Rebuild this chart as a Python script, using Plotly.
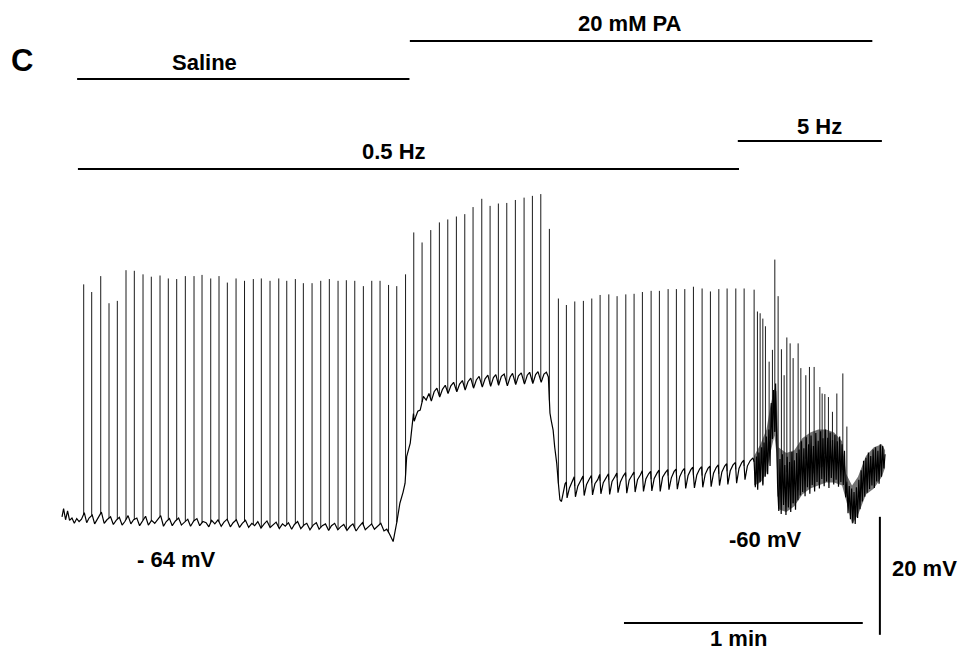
import numpy as np
import plotly.graph_objects as go

# ---------------- data (time in s, membrane potential in mV) ----------------
# spike times and peak potentials
saline_spike_t = [5.45, 7.46, 9.73, 11.81, 13.90, 16.08, 18.17, 20.36, 22.44, 24.63,
                  26.71, 28.82, 30.99, 33.17, 35.18, 37.37, 39.45, 41.54, 43.73, 45.86,
                  48.07, 50.08, 52.27, 54.46, 56.47, 58.63, 60.64, 62.83, 65.01, 67.17,
                  69.36, 71.44, 73.56, 75.72, 77.83, 79.91, 82.05, 84.11, 86.32]
saline_spike_v = [-24.4, -25.7, -23.0, -27.6, -27.2, -22.0, -22.1, -22.7, -23.1, -22.9,
                  -23.4, -23.5, -23.0, -23.0, -22.8, -23.4, -23.0, -24.1, -23.4, -23.8,
                  -23.5, -23.4, -23.8, -23.4, -23.8, -23.5, -24.2, -24.2, -23.8, -23.5,
                  -23.8, -23.7, -23.8, -24.7, -23.8, -23.8, -24.5, -24.7, -22.7]

pa_spike_t = [88.38, 90.47, 92.65, 94.82, 96.93, 99.09, 101.20, 103.28, 105.47, 107.56,
              109.64, 111.75, 113.91, 116.10, 118.19, 120.30, 122.46]
pa_spike_v = [-15.6, -17.3, -15.2, -13.9, -13.4, -12.9, -12.5, -11.3, -9.9, -11.1,
              -10.7, -10.6, -10.1, -9.7, -9.4, -9.1, -15.0]

late_spike_t = [124.72, 126.73, 128.84, 131.00, 133.11, 135.20, 137.39, 139.47, 141.66,
                143.74, 145.83, 148.02, 150.10, 152.29, 154.37, 156.48, 158.65, 160.83,
                162.92, 165.03, 167.11, 169.30, 171.39]
late_spike_v = [-26.8, -27.9, -27.3, -27.2, -26.8, -26.2, -26.1, -26.4, -26.1,
                -26.0, -25.7, -25.5, -25.5, -25.2, -25.2, -25.2, -24.8, -25.1,
                -25.6, -25.2, -25.1, -25.1, -25.1]

hz5_spike_t = [173.90, 174.73, 175.41, 176.09, 176.74, 177.67, 178.50, 179.10, 179.93,
               180.76, 181.44, 182.12, 182.95, 183.70, 184.96, 185.64, 186.89, 187.80,
               188.98, 190.41, 190.99, 191.67, 192.57, 193.58, 194.68, 196.19, 197.20]
hz5_spike_v = [-25.3, -29.0, -29.3, -30.2, -31.5, -37.5, -35.5, -20.2, -26.4,
               -35.4, -39.8, -33.4, -34.4, -36.9, -34.4, -38.6, -39.8, -38.4,
               -38.4, -41.8, -42.9, -43.0, -43.5, -46.0, -42.9, -39.5, -48.5]

# baseline (sub-threshold) potential, read point by point
base_saline = [
    (0.0, -63.8), (0.4, -62.4), (0.9, -64.3), (1.4, -62.8), (1.9, -64.4), (2.5, -64.0),
    (3.1, -64.9), (3.7, -64.1), (4.3, -64.6), (4.9, -64.2), (5.6, -63.1), (6.2, -64.8),
    (6.8, -64.0), (7.6, -63.5), (8.2, -65.0), (8.9, -64.2), (9.9, -63.0), (10.6, -64.9),
    (11.3, -64.3), (12.2, -63.8), (12.9, -65.1), (13.6, -64.4), (14.4, -63.9), (15.1, -65.2),
    (15.8, -64.6), (16.6, -63.6), (17.3, -65.0), (18.0, -64.3), (18.8, -64.0), (19.5, -65.3),
    (20.2, -64.5), (21.0, -63.7), (21.7, -65.2), (22.5, -64.4), (23.3, -64.9), (24.0, -64.2),
    (24.8, -63.6), (25.5, -65.4), (26.2, -64.6), (27.0, -64.1), (27.7, -65.3), (28.5, -64.5),
    (29.3, -64.0), (30.0, -65.2), (30.8, -64.7), (31.6, -64.2), (32.3, -65.4), (33.1, -64.5),
    (33.9, -64.1), (34.6, -65.3), (35.4, -64.6), (36.2, -64.8), (36.9, -65.5), (37.6, -64.4),
    (38.4, -65.0), (39.2, -64.3), (40.0, -65.4), (40.7, -64.7), (41.5, -64.2), (42.3, -65.5),
    (43.0, -64.8), (43.8, -64.3), (44.6, -65.6), (45.3, -64.9), (46.1, -64.4), (46.9, -65.6),
    (47.7, -64.9), (48.4, -65.3), (49.2, -64.6), (50.0, -65.7), (50.8, -65.0), (51.5, -64.5),
    (52.3, -65.6), (53.0, -65.1), (53.8, -64.7), (54.6, -65.8), (55.4, -65.0), (56.1, -65.4),
    (56.9, -64.8), (57.7, -65.9), (58.4, -65.1), (59.2, -64.6), (60.0, -65.8), (60.8, -65.2),
    (61.5, -64.9), (62.3, -66.0), (63.1, -65.2), (63.9, -64.8), (64.6, -65.9), (65.4, -65.3),
    (66.2, -65.0), (67.0, -66.1), (67.7, -65.3), (68.5, -64.9), (69.3, -66.0), (70.0, -65.5),
    (70.8, -65.1), (71.6, -66.1), (72.4, -65.4), (73.1, -65.0), (73.9, -66.2), (74.7, -65.4),
    (75.5, -64.8), (76.2, -66.0), (77.0, -65.5), (77.8, -65.0), (78.5, -65.9), (79.3, -65.4),
    (80.1, -64.9), (80.9, -66.2), (81.6, -65.9), (82.2, -66.6), (82.8, -67.5), (83.2, -68.0),
]
base_pa = [
    (84.1, -64.8), (84.9, -61.5), (85.7, -59.6), (86.2, -58.1), (86.6, -53.6), (87.5, -51.3),
    (88.3, -46.3), (88.5, -47.6), (88.9, -46.8), (89.4, -45.9), (90.0, -45.7), (90.8, -43.4),
    (91.5, -44.0), (92.2, -42.9), (92.8, -44.2), (93.5, -42.6), (94.2, -42.0), (94.9, -43.5),
    (95.6, -42.2), (96.3, -41.5), (97.0, -42.9), (97.7, -41.6), (98.4, -41.0), (99.2, -42.6),
    (99.9, -41.3), (100.6, -40.7), (101.3, -42.3), (102.0, -40.9), (102.7, -40.3), (103.4, -42.0),
    (104.1, -40.6), (104.8, -40.0), (105.6, -41.8), (106.3, -40.4), (107.0, -39.8), (107.7, -41.7),
    (108.4, -40.2), (109.0, -39.7), (109.7, -41.5), (110.4, -40.0), (111.1, -39.6), (111.9, -41.6),
    (112.6, -40.1), (113.2, -39.5), (114.0, -41.4), (114.7, -39.9), (115.4, -39.4), (116.2, -41.3),
    (116.9, -39.8), (117.5, -39.3), (118.3, -41.2), (119.0, -39.7), (119.6, -39.2), (120.4, -41.0),
    (121.1, -39.6), (121.7, -39.3), (122.2, -40.1), (122.6, -46.2), (122.9, -47.4), (123.4, -49.1),
    (123.8, -52.0), (124.3, -54.7), (124.7, -58.0), (125.1, -60.9), (125.5, -61.2),
]
base_late = [
    (125.9, -59.6), (126.4, -58.2), (126.7, -57.9), (126.9, -60.6), (127.5, -58.9), (128.2, -57.6),
    (128.7, -57.0), (129.0, -60.4), (129.6, -58.6), (130.3, -57.7), (130.9, -56.9), (131.2, -60.2),
    (131.8, -58.3), (132.5, -57.4), (133.0, -56.8), (133.3, -60.1), (133.9, -58.2), (134.6, -57.5),
    (135.1, -56.6), (135.4, -59.9), (136.0, -58.0), (136.7, -57.2), (137.3, -56.5), (137.6, -60.0),
    (138.2, -57.8), (138.9, -57.0), (139.4, -56.4), (139.7, -59.7), (140.3, -57.9), (141.0, -56.9),
    (141.6, -56.3), (141.9, -59.8), (142.5, -57.6), (143.2, -56.8), (143.7, -56.2), (144.0, -59.6),
    (144.6, -57.5), (145.3, -56.7), (145.8, -56.0), (146.1, -59.5), (146.7, -57.4), (147.4, -56.5),
    (147.9, -56.1), (148.2, -59.4), (148.8, -57.3), (149.5, -56.4), (150.0, -55.9), (150.3, -59.5),
    (150.9, -57.1), (151.6, -56.3), (152.2, -55.8), (152.5, -59.2), (153.1, -57.2), (153.8, -56.1),
    (154.3, -55.7), (154.6, -59.1), (155.2, -57.0), (155.9, -56.0), (156.4, -55.6), (156.7, -59.0),
    (157.3, -56.8), (158.0, -55.8), (158.5, -55.4), (158.9, -58.9), (159.5, -56.7), (160.2, -55.7),
    (160.7, -55.3), (161.0, -58.8), (161.6, -56.6), (162.3, -55.6), (162.8, -55.2), (163.1, -58.7),
    (163.7, -56.4), (164.4, -55.4), (164.9, -55.0), (165.2, -58.5), (165.8, -56.2), (166.5, -55.2),
    (167.0, -54.8), (167.3, -58.3), (167.9, -56.0), (168.6, -55.0), (169.2, -54.6), (169.5, -58.1),
    (170.1, -55.6), (170.8, -54.6), (171.3, -54.2), (171.6, -57.5), (172.2, -55.2), (172.9, -54.3),
    (173.6, -53.8),
]
base_5hz = [
    (173.9, -54.5), (174.2, -58.8), (174.5, -53.6), (174.8, -59.2), (175.1, -52.9), (175.4, -57.9),
    (175.8, -52.0), (176.1, -58.5), (176.4, -51.2), (176.7, -57.0), (177.0, -50.2), (177.3, -56.6),
    (177.6, -49.0), (177.9, -55.2), (178.2, -44.5), (178.5, -50.6), (178.8, -42.3), (179.1, -49.4),
    (179.3, -41.2), (179.6, -52.0), (179.8, -58.5), (180.1, -62.8), (180.4, -54.0), (180.7, -63.3),
    (181.0, -53.2), (181.3, -61.8), (181.6, -55.0), (181.9, -63.5), (182.2, -53.6), (182.5, -62.2),
    (182.8, -54.5), (183.1, -63.0), (183.4, -52.8), (183.7, -61.5), (184.0, -54.2), (184.3, -62.6),
    (184.6, -53.0), (184.9, -61.0), (185.2, -52.4), (185.5, -60.2), (185.8, -51.0), (186.1, -59.6),
    (186.4, -52.2), (186.7, -60.3), (187.0, -50.3), (187.3, -58.8), (187.6, -51.5), (187.9, -59.9),
    (188.2, -50.0), (188.5, -58.4), (188.8, -51.8), (189.1, -59.5), (189.4, -49.6), (189.7, -57.9),
    (190.0, -50.9), (190.3, -59.0), (190.6, -49.3), (190.9, -57.4), (191.2, -50.5), (191.5, -58.6),
    (191.8, -49.0), (192.1, -57.8), (192.4, -50.4), (192.7, -58.9), (193.0, -49.5), (193.3, -57.2),
    (193.6, -50.8), (193.9, -58.3), (194.2, -49.9), (194.5, -57.5), (194.8, -51.0), (195.1, -58.7),
    (195.4, -50.2), (195.7, -57.9), (196.0, -51.5), (196.3, -58.4), (196.6, -52.6), (196.9, -60.5),
    (197.2, -57.8), (197.5, -63.2), (197.8, -58.6), (198.1, -64.2), (198.4, -59.0), (198.7, -64.9),
    (199.0, -59.6), (199.3, -65.0), (199.6, -58.8), (199.9, -64.0), (200.2, -57.5), (200.5, -62.5),
    (200.8, -55.9), (201.1, -61.2), (201.4, -54.3), (201.7, -60.4), (202.0, -53.8), (202.3, -59.7),
    (202.6, -52.9), (202.9, -59.1), (203.2, -53.5), (203.5, -58.5), (203.8, -52.4), (204.1, -58.9),
    (204.4, -52.0), (204.7, -57.8), (205.0, -52.6), (205.3, -58.2), (205.6, -51.5), (205.9, -57.0),
    (206.2, -51.8), (206.5, -55.6), (206.8, -53.2),
]

# envelope of the dense noise band during 5 Hz stimulation
burst_env_t = [173.9, 175.5, 177.0, 178.0, 179.0, 179.5, 180.0, 182.0, 184.0, 186.0, 188.0,
               190.0, 192.0, 194.0, 196.0, 197.0, 198.5, 200.0, 202.0, 204.0, 206.0, 206.8]
burst_env_hi = [-53.5, -51.5, -49.0, -45.0, -42.0, -42.5, -52.0, -53.0, -52.5, -50.5, -49.5,
                -49.0, -49.0, -49.5, -51.0, -56.5, -58.5, -57.0, -53.5, -52.0, -51.5, -52.5]
burst_env_lo = [-58.5, -58.0, -56.5, -53.0, -50.0, -53.0, -62.5, -63.0, -62.0, -60.0, -59.0,
                -58.5, -58.0, -58.0, -58.5, -61.0, -65.0, -63.5, -60.0, -59.0, -57.0, -55.5]

# condition / stimulation periods (s)
drug_labels = ["Saline", "20 mM PA"]
drug_start = [3.8, 87.4]
drug_end = [87.3, 203.6]
stim_labels = ["0.5 Hz", "5 Hz"]
stim_start = [4.0, 169.8]
stim_end = [170.1, 206.0]

# scale bars and level labels
scale_time_s = 60
scale_mv = 20
level_labels = ["- 64 mV", "-60 mV"]

# ---------------- build figure ----------------
base = base_saline + base_pa + base_late + base_5hz
bt = np.array([p[0] for p in base])
bv = np.array([p[1] for p in base])

spike_t = saline_spike_t + pa_spike_t + late_spike_t + hz5_spike_t
spike_v = saline_spike_v + pa_spike_v + late_spike_v + hz5_spike_v
sx, sy = [], []
for t, v in zip(spike_t, spike_v):
    foot = float(np.interp(t, bt, bv))
    sx += [t, t, None]
    sy += [foot, v, None]

fig = go.Figure()
fig.add_trace(go.Scatter(x=burst_env_t + burst_env_t[::-1],
                         y=burst_env_hi + burst_env_lo[::-1],
                         mode="lines", fill="toself", fillcolor="rgba(0,0,0,0.55)",
                         line=dict(width=0), hoverinfo="skip"))
fig.add_trace(go.Scatter(x=sx, y=sy, mode="lines",
                         line=dict(color="#1a1a1a", width=1), hoverinfo="skip"))
fig.add_trace(go.Scatter(x=bt, y=bv, mode="lines",
                         line=dict(color="#000000", width=1.2), hoverinfo="skip"))

W, H = 963, 651
FONT = "Liberation Sans, Arial, sans-serif"
FS = 22


def py(px):  # pixel row -> paper y
    return 1 - px / H


def px_x(px):
    return px / W


shapes = []
annotations = []
bar_line = dict(color="black", width=2)


def label(text, tx, ty, size=FS):
    annotations.append(dict(text="<b>%s</b>" % text, xref="paper", yref="paper",
                            x=px_x(tx), y=py(ty), showarrow=False,
                            xanchor="center", yanchor="middle",
                            font=dict(family=FONT, size=size, color="black")))


# drug bars
drug_rows = [79, 41]
drug_text = [(204, 62), (630, 24)]
for lab, s, e, row, (tx, ty) in zip(drug_labels, drug_start, drug_end, drug_rows, drug_text):
    shapes.append(dict(type="line", xref="x", yref="paper", x0=s, x1=e,
                       y0=py(row), y1=py(row), line=bar_line))
    label(lab, tx, ty)
# stimulation bars
stim_rows = [169, 141]
stim_text = [(394, 151), (819, 127)]
for lab, s, e, row, (tx, ty) in zip(stim_labels, stim_start, stim_end, stim_rows, stim_text):
    shapes.append(dict(type="line", xref="x", yref="paper", x0=s, x1=e,
                       y0=py(row), y1=py(row), line=bar_line))
    label(lab, tx, ty)

# scale bars
t_bar0 = 141.2
shapes.append(dict(type="line", xref="x", yref="paper", x0=t_bar0, x1=t_bar0 + scale_time_s,
                   y0=py(623), y1=py(623), line=bar_line))
shapes.append(dict(type="line", xref="x", yref="y", x0=205.5, x1=205.5,
                   y0=-63.8 - scale_mv, y1=-63.8, line=bar_line))
label("1 min", 738, 638)
label("%d mV" % scale_mv, 924, 568)
for lab, (tx, ty) in zip(level_labels, [(176, 559), (765, 539)]):
    label(lab, tx, ty)
label("C", 22, 61, size=31)

x0_px, px_per_s = 62.0, 3.98
y0_px, px_per_mv = 518.0, 5.9
fig.update_layout(
    width=W, height=H,
    margin=dict(l=0, r=0, t=0, b=0),
    paper_bgcolor="white", plot_bgcolor="white",
    showlegend=False,
    xaxis=dict(range=[-x0_px / px_per_s, (W - x0_px) / px_per_s], visible=False, fixedrange=True),
    yaxis=dict(range=[-64 - (H - y0_px) / px_per_mv, -64 + y0_px / px_per_mv], visible=False,
               fixedrange=True),
    shapes=shapes, annotations=annotations,
)
fig.write_html("out.html", config={"displayModeBar": False})
